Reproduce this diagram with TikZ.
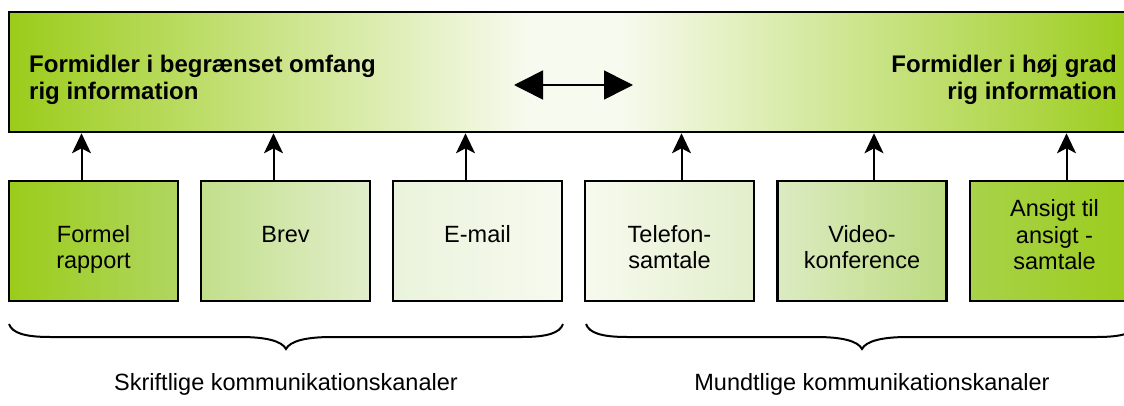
\documentclass[tikz,border=0pt]{standalone}
\usepackage{fontspec}
\setmainfont{Liberation Sans}
\usetikzlibrary{arrows.meta}

\definecolor{leaf}{HTML}{9BCC1A}
\definecolor{leafA}{HTML}{B0D660}
\definecolor{leafB}{HTML}{C2DF8C}
\definecolor{leafC}{HTML}{E2EECB}
\definecolor{leafD}{HTML}{EAF3DC}
\definecolor{leafE}{HTML}{F7FAEF}
\definecolor{leafF}{HTML}{DCEBC2}
\definecolor{leafG}{HTML}{BCDB80}
\definecolor{leafH}{HTML}{A8D24A}

% green at both ends, pale in the middle
\pgfdeclarehorizontalshading{richscale}{100bp}{%
  color(0bp)=(leaf); color(25bp)=(leaf); color(48bp)=(leafE);
  color(52bp)=(leafE); color(75bp)=(leaf); color(100bp)=(leaf)}

\tikzset{
  chanbox/.style={draw=black, line width=2.6pt, minimum width=169pt,
    minimum height=120pt, inner sep=0pt},
  chantext/.style={font=\fontsize{23.5}{26}\selectfont, align=center,
    anchor=base, inner sep=0pt},
  headtext/.style={font=\fontsize{24}{27}\selectfont\bfseries, inner sep=0pt},
  grouptext/.style={font=\fontsize{23.5}{26}\selectfont, inner sep=0pt},
  uparrow/.style={line width=2pt, -{Stealth[length=20pt, width=19pt, inset=5pt]}},
  spanarrow/.style={line width=1.6pt, {Triangle[length=29pt, width=29pt]}-{Triangle[length=29pt, width=29pt]}},
  groupbrace/.style={line width=2pt},
}

\begin{document}
\begin{tikzpicture}[x=1pt, y=-1pt]
  \useasboundingbox (0,0) rectangle (1124,406);
  \clip (0,0) rectangle (1124,406);

  % richness scale across the top
  \node[draw=black, line width=2.6pt, minimum width=1130pt, minimum height=120pt,
        inner sep=0pt, shading=richscale] (scale) at (574,72) {};
  % multi-line nodes: the base anchor sits on the last line
  \node[headtext, anchor=base west, align=left] (lowrich) at (29,100)
        {Formidler i begrænset omfang\\rig information};
  \node[headtext, anchor=base east, align=right] (highrich) at (1117,100)
        {Formidler i høj grad\\rig information};
  \coordinate (spanL) at (514,85);
  \coordinate (spanR) at (633,85);
  \draw[spanarrow] (spanL) -- (spanR);

  % communication channels
  \node[chanbox, left color=leaf,  right color=leafA] (b1) at (93.5,241) {};
  \node[chanbox, left color=leafB, right color=leafC] (b2) at (285.5,241) {};
  \node[chanbox, left color=leafD, right color=leafE] (b3) at (477.5,241) {};
  \node[chanbox, left color=leafE, right color=leafC] (b4) at (669.5,241) {};
  \node[chanbox, left color=leafF, right color=leafG] (b5) at (862,241) {};
  \node[chanbox, left color=leafH, right color=leaf]  (b6) at (1054.5,241) {};

  \node[chantext] (t1) at (93.5,268) {Formel\\rapport};
  \node[chantext] (t2) at (285.5,242) {Brev};
  \node[chantext] (t3) at (477.5,242) {E-mail};
  \node[chantext] (t4) at (669.5,268) {Telefon-\\samtale};
  \node[chantext] (t5) at (862,268) {Video-\\konference};
  \node[chantext] (t6) at (1054.5,269) {Ansigt til\\ansigt -\\samtale};

  % channels feed the scale
  \foreach \b/\dx in {b1/-12, b2/-12, b3/-12, b4/12, b5/12, b6/12}{
    \draw[uparrow] ([xshift=\dx pt]\b.north) -- ([xshift=\dx pt]\b.north |- scale.south);
  }

  % group braces
  \draw[groupbrace] (9,324) .. controls (12,333) and (25,337) .. (50,337)
    -- (240,337) .. controls (266,337) and (282,341) .. (286,349)
    .. controls (290,341) and (306,337) .. (332,337)
    -- (522,337) .. controls (547,337) and (560,333) .. (563,324);
  \draw[groupbrace] (586,324) .. controls (589,333) and (602,337) .. (627,337)
    -- (816,337) .. controls (842,337) and (858,341) .. (862,349)
    .. controls (866,341) and (882,337) .. (908,337)
    -- (1097,337) .. controls (1122,337) and (1135,333) .. (1138,324);

  \node[grouptext] (written) at (286,384) {Skriftlige kommunikationskanaler};
  \node[grouptext] (spoken) at (872,384) {Mundtlige kommunikationskanaler};
\end{tikzpicture}
\end{document}
